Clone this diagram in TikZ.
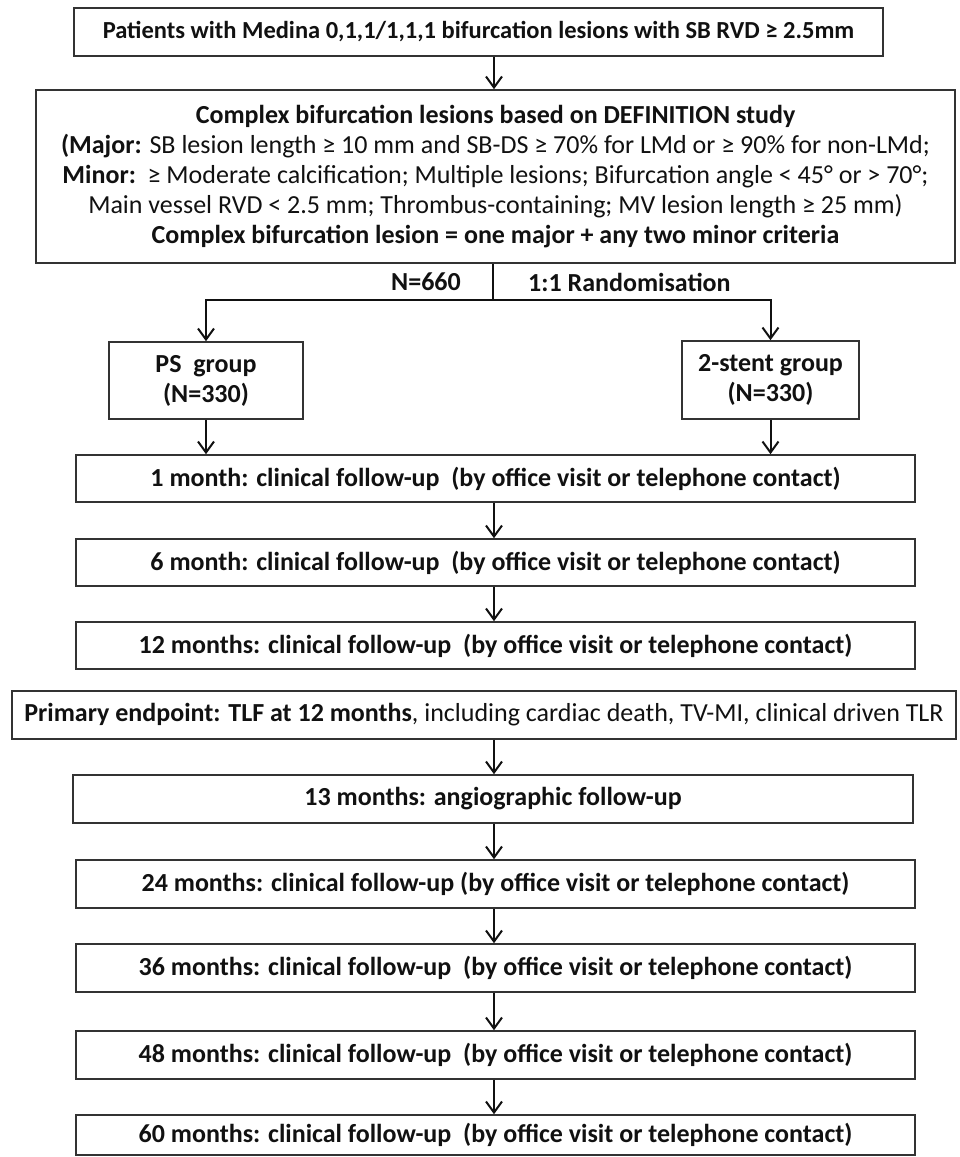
\documentclass[tikz,border=0pt]{standalone}
\usepackage{fontspec}
\setmainfont{Carlito}
\usetikzlibrary{arrows.meta}
\definecolor{boxgray}{HTML}{333333}
\definecolor{ink}{HTML}{111111}
\begin{document}
\begin{tikzpicture}[x=1pt,y=-1pt,
  box/.style={draw=boxgray,line width=1.6pt,fill=white,inner sep=0pt,align=center,text=ink,
    font=\fontsize{26}{30}\selectfont},
  bbox/.style={box,font=\fontsize{26}{30}\selectfont\bfseries},
  fu/.style={bbox,minimum width=839pt,minimum height=47pt},
  lbl/.style={inner sep=0pt,text=ink,font=\fontsize{26}{30}\selectfont\bfseries},
  conn/.style={draw=ink,line width=2pt},
  arr/.style={conn,-{Straight Barb[length=11pt,width=16pt,line width=2pt]}}]
\useasboundingbox (0,0) rectangle (959,1157);
\coordinate (sp) at (494,0);
\node[bbox,font=\fontsize{24.5}{30}\selectfont\bfseries,minimum width=809pt,minimum height=48pt] (pat) at (478.5,32)
  {Patients with Medina 0,1,1/1,1,1 bifurcation lesions with SB RVD ≥ 2.5mm};
\node[box,minimum width=919pt,minimum height=173pt] (cx) at (495.5,176.5)
  {\textbf{Complex bifurcation lesions based on DEFINITION study}\\
   \textbf{(Major:} SB lesion length ≥ 10 mm and SB-DS ≥ 70\% for LMd or ≥ 90\% for non-LMd;\\
   \textbf{Minor:}\ \ ≥ Moderate calcification; Multiple lesions; Bifurcation angle < 45° or > 70°;\\
   Main vessel RVD < 2.5 mm; Thrombus-containing; MV lesion length ≥ 25 mm)\\
   \textbf{Complex bifurcation lesion = one major + any two minor criteria}};
\coordinate (j) at (493,300);
\node[lbl,anchor=east] (n660) at (461,282) {N=660};
\node[lbl,anchor=west] (rand) at (528,282) {1:1 Randomisation};
\node[bbox,minimum width=194pt,minimum height=77pt] (ps) at (206,380.5) {PS\ \ group\\(N=330)};
\node[bbox,minimum width=177pt,minimum height=78pt] (ts) at (770.5,380) {2-stent group\\(N=330)};
\node[fu] (f1) at (495.5,478.5) {1 month: clinical follow-up\ \ (by office visit or telephone contact)};
\node[fu] (f6) at (495.5,562.5) {6 month: clinical follow-up\ \ (by office visit or telephone contact)};
\node[fu] (f12) at (495.5,645.5) {12 months: clinical follow-up\ \ (by office visit or telephone contact)};
\node[box,minimum width=944pt,minimum height=48pt] (pe) at (484,715)
  {\textbf{Primary endpoint: TLF at 12 months}, including cardiac death, TV-MI, clinical driven TLR};
\node[bbox,minimum width=840pt,minimum height=48pt] (f13) at (493,799) {13 months: angiographic follow-up};
\node[fu,minimum height=48pt] (f24) at (495.5,884) {24 months: clinical follow-up (by office visit or telephone contact)};
\node[fu,minimum height=48pt] (f36) at (495.5,968) {36 months: clinical follow-up\ \ (by office visit or telephone contact)};
\node[fu,minimum height=48pt] (f48) at (495.5,1055) {48 months: clinical follow-up\ \ (by office visit or telephone contact)};
\node[fu,minimum height=40pt] (f60) at (495.5,1135) {60 months: clinical follow-up\ \ (by office visit or telephone contact)};
\draw[arr] (pat.south -| sp) -- (cx.north -| sp);
\draw[conn] (cx.south -| j) -- (j);
\draw[arr] (j) -| (ps.north);
\draw[arr] (j) -| (ts.north);
\draw[arr] (ps.south) -- (ps.south |- f1.north);
\draw[arr] (ts.south) -- (ts.south |- f1.north);
\draw[arr] (f1.south -| sp) -- (f6.north -| sp);
\draw[arr] (f6.south -| sp) -- (f12.north -| sp);
\draw[arr] (pe.south -| sp) -- (f13.north -| sp);
\draw[arr] (f13.south -| sp) -- (f24.north -| sp);
\draw[arr] (f24.south -| sp) -- (f36.north -| sp);
\draw[arr] (f36.south -| sp) -- (f48.north -| sp);
\draw[arr] (f48.south -| sp) -- (f60.north -| sp);
\end{tikzpicture}
\end{document}
